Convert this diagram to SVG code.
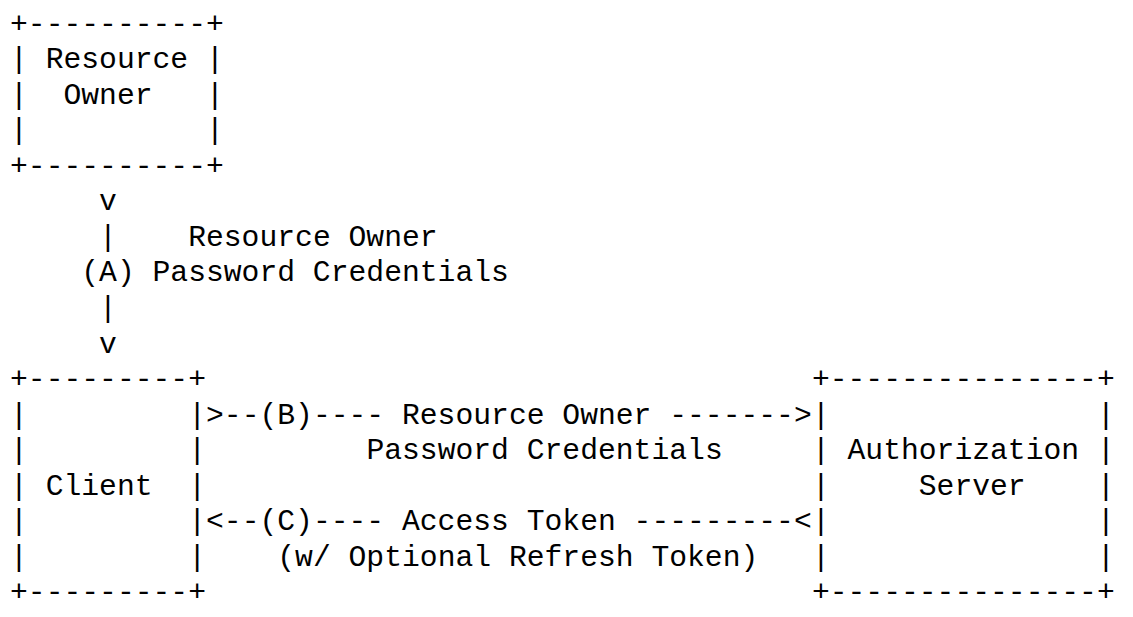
<svg xmlns="http://www.w3.org/2000/svg" width="1133" height="617" viewBox="0 0 1133 617" xml:space="preserve">
<style>
text { font-family: "Liberation Mono", "Courier New", monospace; font-size: 29.7px; fill: #000; white-space: pre; }
</style>
<rect x="0" y="0" width="1133" height="617" fill="#fff"/>
<g id="resource-owner">
<text x="10" y="32.5">+----------+</text>
<text x="10" y="68.06">| Resource |</text>
<text x="10" y="103.62">|  Owner   |</text>
<text x="10" y="139.18">|          |</text>
<text x="10" y="174.74">+----------+</text>
</g>
<g id="client">
<text x="10" y="388.1">+---------+</text>
<text x="10" y="423.66">|         |</text>
<text x="10" y="459.22">|         |</text>
<text x="10" y="494.78">| Client  |</text>
<text x="10" y="530.34">|         |</text>
<text x="10" y="565.9">|         |</text>
<text x="10" y="601.46">+---------+</text>
</g>
<g id="authorization-server">
<text x="811.9" y="388.1">+---------------+</text>
<text x="811.9" y="423.66">|               |</text>
<text x="811.9" y="459.22">| Authorization |</text>
<text x="811.9" y="494.78">|     Server    |</text>
<text x="811.9" y="530.34">|               |</text>
<text x="811.9" y="565.9">|               |</text>
<text x="811.9" y="601.46">+---------------+</text>
</g>
<g id="connectors">
<g id="flow-a">
<text x="99.1" y="210.3">v</text>
<text x="99.1" y="245.86">|    Resource Owner</text>
<text x="81.28" y="281.42">(A) Password Credentials</text>
<text x="99.1" y="316.98">|</text>
<text x="99.1" y="352.54">v</text>
</g>
<g id="flow-b">
<text x="206.02" y="423.66">&gt;--(B)---- Resource Owner -------&gt;</text>
<text x="366.4" y="459.22">Password Credentials</text>
</g>
<g id="flow-c">
<text x="206.02" y="530.34">&lt;--(C)---- Access Token ---------&lt;</text>
<text x="277.3" y="565.9">(w/ Optional Refresh Token)</text>
</g>
</g>
</svg>
